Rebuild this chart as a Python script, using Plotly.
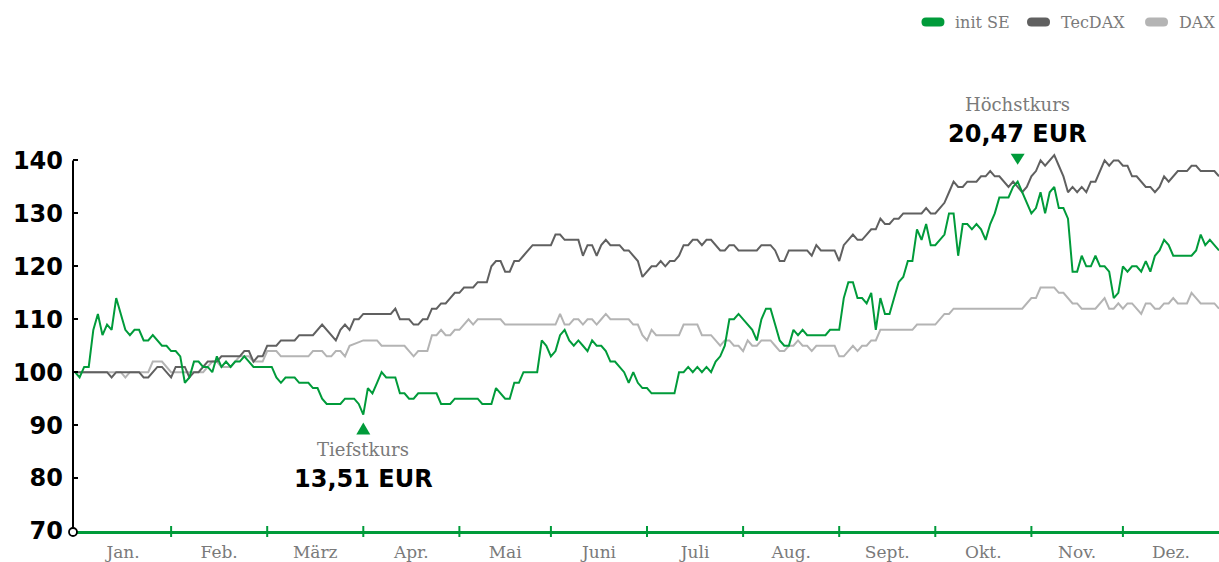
import plotly.graph_objects as go

# ---------------- data ----------------
month_labels = ["Jan.", "Feb.", "März", "Apr.", "Mai", "Juni", "Juli", "Aug.", "Sept.", "Okt.", "Nov.", "Dez."]
month_start_day = [0, 21, 42, 63, 84, 104, 125, 146, 167, 188, 209, 229]
last_day = 250

y_tick_values = [70, 80, 90, 100, 110, 120, 130, 140]

low_label = "Tiefstkurs"
low_price = "13,51 EUR"
high_label = "Höchstkurs"
high_price = "20,47 EUR"

# indexed performance (start = 100), vertices by trading day
init_days = [0, 1, 2, 3, 4, 5, 6, 7, 8, 9, 11, 12, 13, 14, 15, 16, 17, 18, 19, 20, 21, 22, 23, 24, 25, 26, 27, 28, 29, 30,
             31, 32, 33, 34, 35, 36, 37, 38, 39, 43, 44, 45, 46, 48, 49, 51, 52, 53, 54, 55, 58, 59, 61, 62, 63, 64, 65,
             66, 67, 68, 70, 71, 72, 73, 74, 75, 79, 80, 82, 83, 88, 89, 91, 92, 94, 95, 96, 97, 98, 101, 102, 103, 104,
             105, 106, 107, 108, 109, 110, 111, 112, 113, 114, 115, 116, 117, 118, 119, 120, 121, 122, 123, 124, 125,
             126, 131, 132, 133, 134, 135, 136, 137, 138, 139, 140, 141, 142, 143, 144, 145, 146, 148, 149, 150, 151,
             152, 153, 154, 155, 156, 157, 158, 159, 160, 164, 165, 167, 168, 169, 170, 171, 172, 173, 174, 175, 176,
             177, 178, 179, 180, 181, 182, 183, 184, 185, 186, 187, 188, 189, 190, 191, 192, 193, 194, 195, 196, 197,
             198, 199, 200, 201, 202, 204, 205, 206, 207, 208, 209, 210, 211, 212, 213, 214, 215, 216, 217, 218, 219,
             220, 221, 222, 223, 224, 225, 226, 227, 228, 229, 230, 231, 232, 233, 234, 235, 236, 237, 238, 239, 240,
             244, 245, 246, 247, 248, 250]
init_vals = [100, 99, 101, 101, 108, 111, 107, 109, 108, 114, 108, 107, 108, 108, 106, 106, 107, 106, 105, 105, 104, 104,
             103, 98, 99, 102, 102, 101, 101, 100, 103, 101, 102, 101, 102, 102, 103, 102, 101, 101, 99, 98, 99, 99, 98,
             98, 97, 97, 95, 94, 94, 95, 95, 94, 92, 97, 96, 98, 100, 99, 99, 96, 96, 95, 95, 96, 96, 94, 94, 95, 95, 94,
             94, 97, 95, 95, 98, 98, 100, 100, 106, 105, 103, 104, 107, 108, 106, 105, 106, 105, 104, 106, 105, 105, 104,
             102, 102, 101, 100, 98, 100, 98, 97, 97, 96, 96, 100, 100, 101, 100, 101, 100, 101, 100, 102, 103, 105, 110,
             110, 111, 110, 108, 106, 110, 112, 112, 109, 106, 105, 105, 108, 107, 108, 107, 107, 108, 108, 114, 117, 117,
             114, 114, 113, 115, 108, 114, 111, 111, 114, 117, 118, 121, 121, 127, 125, 128, 124, 124, 125, 126, 130, 130,
             122, 128, 128, 127, 128, 127, 125, 128, 130, 133, 133, 135, 136, 134, 132, 130, 131, 134, 130, 134, 135, 131,
             131, 129, 119, 119, 122, 120, 120, 122, 120, 120, 119, 114, 115, 120, 119, 120, 120, 119, 121, 119, 122, 123,
             125, 124, 122, 122, 123, 126, 124, 125, 123]

tec_days = [0, 7, 8, 9, 14, 15, 16, 17, 18, 19, 20, 21, 22, 24, 25, 26, 27, 28, 29, 31, 32, 36, 37, 38, 39, 40, 41, 42, 44,
            45, 48, 49, 52, 54, 57, 58, 59, 60, 61, 62, 63, 69, 70, 71, 73, 74, 75, 76, 77, 78, 79, 80, 81, 82, 83, 84,
            85, 87, 88, 90, 91, 92, 93, 94, 95, 96, 97, 98, 99, 100, 104, 105, 106, 107, 110, 111, 112, 113, 114, 115,
            116, 117, 119, 120, 121, 122, 123, 124, 125, 126, 127, 128, 129, 130, 131, 132, 133, 134, 135, 136, 137,
            138, 139, 140, 141, 142, 143, 144, 145, 149, 150, 152, 153, 154, 155, 156, 160, 161, 162, 163, 166, 167,
            168, 169, 170, 171, 172, 173, 174, 175, 176, 177, 178, 179, 180, 181, 185, 186, 187, 188, 189, 190, 191,
            192, 193, 194, 195, 197, 198, 199, 200, 201, 202, 203, 204, 205, 206, 207, 208, 209, 210, 211, 212, 213,
            214, 215, 216, 217, 218, 219, 220, 221, 222, 223, 224, 225, 226, 227, 228, 229, 230, 231, 232, 233, 234,
            235, 236, 237, 238, 239, 240, 241, 243, 244, 245, 246, 249, 250]
tec_vals = [100, 100, 99, 100, 100, 99, 99, 100, 101, 101, 100, 99, 101, 101, 99, 100, 100, 101, 102, 102, 103, 103, 104,
            104, 102, 103, 103, 105, 105, 106, 106, 107, 107, 109, 106, 108, 109, 108, 110, 110, 111, 111, 112, 110, 110,
            109, 109, 110, 110, 112, 112, 113, 113, 114, 115, 115, 116, 116, 117, 117, 120, 121, 121, 119, 119, 121, 121,
            122, 123, 124, 124, 126, 126, 125, 125, 122, 124, 124, 122, 124, 125, 124, 124, 123, 123, 122, 121, 118, 119,
            120, 120, 121, 120, 121, 121, 122, 124, 124, 125, 125, 124, 125, 125, 124, 123, 123, 124, 124, 123, 123, 124,
            124, 123, 121, 121, 123, 123, 122, 124, 123, 123, 121, 124, 125, 126, 125, 125, 126, 127, 127, 129, 128, 128,
            129, 129, 130, 130, 131, 130, 130, 131, 132, 134, 136, 135, 135, 136, 136, 137, 137, 138, 137, 137, 136, 135,
            136, 135, 134, 135, 137, 138, 140, 139, 140, 141, 139, 137, 134, 135, 134, 135, 134, 136, 136, 138, 140, 139,
            140, 140, 139, 139, 137, 137, 136, 135, 135, 134, 135, 137, 136, 137, 138, 138, 139, 139, 138, 138, 137]

dax_days = [0, 10, 11, 12, 16, 17, 19, 20, 21, 28, 29, 30, 31, 32, 34, 35, 36, 38, 39, 41, 42, 44, 45, 51, 52, 54, 55, 56,
            57, 58, 59, 60, 63, 66, 67, 72, 73, 74, 75, 77, 78, 79, 80, 81, 82, 83, 84, 85, 86, 87, 88, 93, 94, 105, 106,
            107, 108, 109, 110, 111, 112, 113, 114, 115, 116, 117, 121, 122, 123, 124, 125, 126, 127, 132, 133, 136,
            137, 139, 140, 141, 142, 143, 144, 145, 146, 147, 148, 149, 150, 152, 153, 154, 155, 156, 157, 158, 159,
            160, 161, 162, 166, 167, 168, 169, 170, 171, 172, 173, 174, 175, 176, 183, 184, 188, 189, 190, 191, 192,
            207, 208, 209, 210, 211, 214, 215, 216, 217, 218, 219, 220, 223, 224, 225, 226, 227, 228, 229, 230, 231,
            232, 233, 234, 235, 236, 237, 238, 239, 240, 241, 243, 244, 245, 246, 249, 250]
dax_vals = [100, 100, 99, 100, 100, 102, 102, 101, 100, 100, 101, 102, 102, 101, 101, 102, 103, 103, 102, 102, 104, 104,
            103, 103, 104, 104, 103, 103, 104, 104, 103, 105, 106, 106, 105, 105, 104, 103, 104, 104, 107, 107, 108, 107,
            107, 108, 108, 109, 110, 109, 110, 110, 109, 109, 111, 109, 109, 110, 110, 109, 110, 110, 109, 110, 111, 110,
            110, 109, 109, 107, 106, 108, 107, 107, 109, 109, 107, 107, 106, 105, 106, 106, 105, 105, 104, 106, 105, 105,
            106, 106, 105, 104, 104, 105, 105, 106, 105, 105, 104, 105, 105, 103, 103, 104, 105, 104, 105, 105, 106, 106,
            108, 108, 109, 109, 110, 111, 111, 112, 112, 113, 114, 114, 116, 116, 115, 115, 114, 113, 113, 112, 112, 113,
            114, 112, 112, 113, 112, 113, 113, 112, 111, 113, 113, 112, 112, 113, 113, 114, 113, 113, 115, 114, 113, 113,
            112]

# ---------------- styles ----------------
GREEN = "#009b3a"
DARK = "#606060"
LIGHT = "#b4b4b4"
SERIF = "DejaVu Serif"
BOLD = "DejaVu Sans"
GREY_TXT = "#7a7a7a"

fig = go.Figure()
fig.add_trace(go.Scatter(x=dax_days, y=dax_vals, mode="lines", name="DAX",
                         line=dict(color=LIGHT, width=2), showlegend=False, hoverinfo="skip"))
fig.add_trace(go.Scatter(x=tec_days, y=tec_vals, mode="lines", name="TecDAX",
                         line=dict(color=DARK, width=2), showlegend=False, hoverinfo="skip"))
fig.add_trace(go.Scatter(x=init_days, y=init_vals, mode="lines", name="init SE",
                         line=dict(color=GREEN, width=2), showlegend=False, hoverinfo="skip"))

bounds = month_start_day + [last_day]
mids = [(bounds[i] + bounds[i + 1]) / 2 for i in range(len(month_labels))]

shapes = []
# y axis line
shapes.append(dict(type="line", xref="paper", x0=0, x1=0, yref="y", y0=y_tick_values[0], y1=y_tick_values[-1],
                   line=dict(color="black", width=2), layer="above"))
# month ticks crossing the green axis
for b in month_start_day[1:]:
    shapes.append(dict(type="line", xref="x", x0=b, x1=b, yref="paper", ysizemode="pixel", yanchor=0,
                       y0=-6, y1=5, line=dict(color=GREEN, width=2), layer="above"))
# origin circle (paper-referenced so it is not clipped)
shapes.append(dict(type="circle", xref="paper", xsizemode="pixel", xanchor=0, x0=-4, x1=4,
                   yref="paper", ysizemode="pixel", yanchor=0, y0=-5, y1=3,
                   fillcolor="white", line=dict(color="black", width=1.8), layer="above"))

# low / high markers
lo_i = min(range(len(init_vals)), key=lambda i: init_vals[i])
hi_i = max(range(len(init_vals)), key=lambda i: init_vals[i])
lo_x, lo_y = init_days[lo_i], init_vals[lo_i]
hi_x, hi_y = init_days[hi_i], init_vals[hi_i]
shapes.append(dict(type="path", xref="x", xsizemode="pixel", xanchor=lo_x, yref="y", ysizemode="pixel",
                   yanchor=lo_y, path="M 0,-8 L 7,-20 L -7,-20 Z", fillcolor=GREEN, line=dict(width=0)))
shapes.append(dict(type="path", xref="x", xsizemode="pixel", xanchor=hi_x, yref="y", ysizemode="pixel",
                   yanchor=hi_y, path="M 0,17 L 7,28 L -7,28 Z", fillcolor=GREEN, line=dict(width=0)))

annotations = [
    dict(x=lo_x, y=lo_y, xref="x", yref="y", text=low_label, showarrow=False, yshift=-35,
         font=dict(family=SERIF, size=18, color=GREY_TXT)),
    dict(x=lo_x, y=lo_y, xref="x", yref="y", text=low_price, showarrow=False, yshift=-64,
         font=dict(family=BOLD, size=24, color="black", weight="bold")),
    dict(x=hi_x, y=hi_y, xref="x", yref="y", text=high_label, showarrow=False, yshift=77,
         font=dict(family=SERIF, size=18, color=GREY_TXT)),
    dict(x=hi_x, y=hi_y, xref="x", yref="y", text=high_price, showarrow=False, yshift=48,
         font=dict(family=BOLD, size=24, color="black", weight="bold")),
]

# manual legend (pills + labels)
legend_items = [("init SE", GREEN, 0.7504, 0.7679), ("TecDAX", DARK, 0.8425, 0.8604), ("DAX", LIGHT, 0.9455, 0.9634)]
leg_y = 1.2821
for name, col, px, tx in legend_items:
    shapes.append(dict(type="path", xref="paper", xsizemode="pixel", xanchor=px, yref="paper",
                       ysizemode="pixel", yanchor=leg_y,
                       path="M -7,-4.5 L 7,-4.5 Q 11.5,-4.5 11.5,0 Q 11.5,4.5 7,4.5 L -7,4.5 Q -11.5,4.5 -11.5,0 Q -11.5,-4.5 -7,-4.5 Z",
                       fillcolor=col, line=dict(width=0)))
    annotations.append(dict(x=tx, y=leg_y, xref="paper", yref="paper", text=name, showarrow=False,
                            xanchor="left", yanchor="middle",
                            font=dict(family=SERIF, size=16, color=GREY_TXT)))

fig.update_layout(
    width=1219, height=562,
    margin=dict(l=73, r=0, t=134, b=31),
    paper_bgcolor="white", plot_bgcolor="white",
    showlegend=False,
    shapes=shapes, annotations=annotations,
    xaxis=dict(range=[-0.44, last_day], showgrid=False, zeroline=False,
               showline=True, linecolor=GREEN, linewidth=3,
               tickmode="array", tickvals=mids, ticktext=month_labels, ticks="",
               ticklabelstandoff=4,
               tickfont=dict(family=SERIF, size=17, color=GREY_TXT), fixedrange=True),
    yaxis=dict(range=[70, 145], showgrid=False, zeroline=False, showline=False,
               tickmode="array", tickvals=y_tick_values, ticks="inside", ticklen=5, tickwidth=2,
               tickcolor="black", ticklabelstandoff=9,
               tickfont=dict(family=BOLD, size=24, color="black", weight="bold"), fixedrange=True),
)

fig.write_html("out.html")
